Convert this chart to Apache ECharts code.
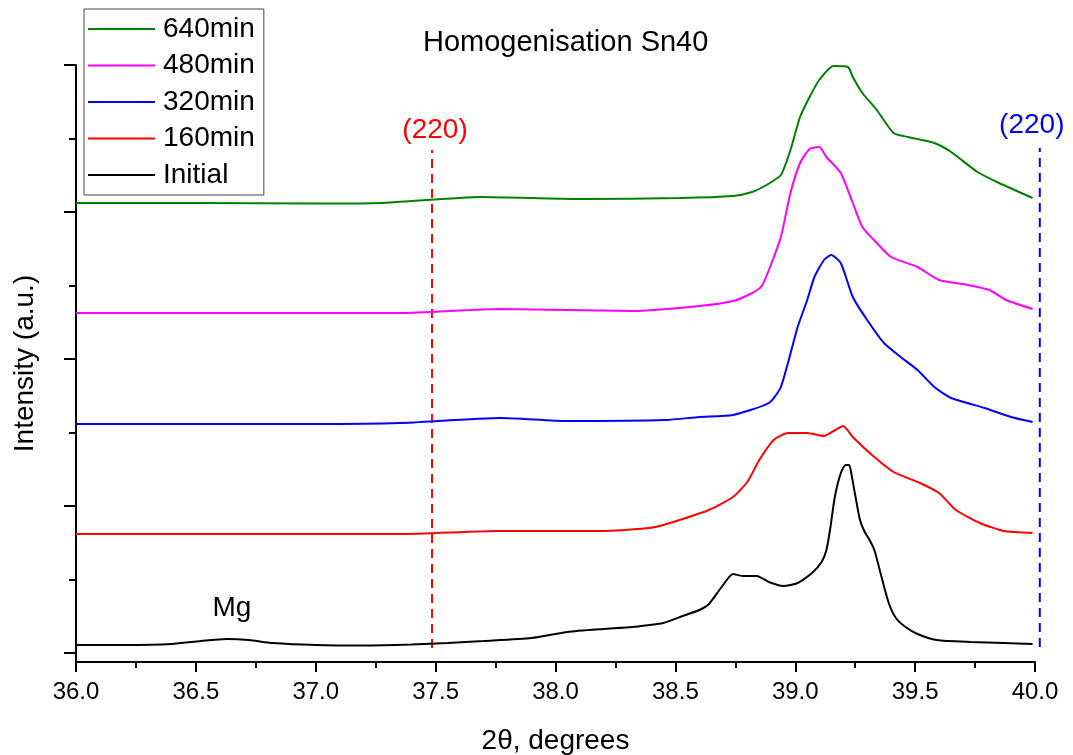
<!DOCTYPE html>
<html>
<head>
<meta charset="utf-8">
<script src="https://cdn.jsdelivr.net/npm/echarts@6/dist/echarts.min.js"></script>
<style>
  html, body { margin: 0; padding: 0; background: #fff; }
  #chart { width: 1073px; height: 755px; }
</style>
</head>
<body>
<div id="chart"></div>
<script>
  // [2theta, intensity] - curves already offset vertically like in the original plot
  const initial = [
    [36.00, 17], [36.20, 17], [36.40, 18], [36.52, 21], [36.63, 23], [36.72, 22], [36.82, 19],
    [37.00, 17], [37.20, 16.5], [37.40, 17.5], [37.55, 19], [37.70, 21], [37.90, 24], [38.05, 30],
    [38.20, 33], [38.32, 35], [38.45, 39], [38.53, 46], [38.60, 52], [38.64, 58], [38.69, 74],
    [38.74, 88], [38.78, 86], [38.84, 86], [38.89, 80], [38.95, 76], [39.01, 79], [39.07, 89],
    [39.11, 100], [39.13, 112], [39.145, 132], [39.165, 165], [39.19, 189], [39.21, 197],
    [39.225, 197], [39.235, 187], [39.25, 167], [39.27, 142], [39.29, 130], [39.31, 122],
    [39.33, 112], [39.36, 85], [39.39, 59], [39.42, 44], [39.46, 35], [39.51, 28], [39.59, 22],
    [39.73, 20], [39.87, 19], [39.99, 18]
  ]
  const min160 = [
    [36.00, 128], [36.50, 128], [37.00, 128], [37.35, 128], [37.77, 131], [38.19, 131], [38.39, 134],
    [38.45, 137], [38.53, 143], [38.64, 152], [38.74, 165], [38.80, 180], [38.85, 202], [38.91, 222],
    [38.97, 229], [39.05, 229], [39.12, 226], [39.16, 231], [39.20, 236], [39.24, 225], [39.32, 207],
    [39.41, 190], [39.52, 179], [39.60, 169], [39.67, 152], [39.77, 139], [39.87, 131], [39.99, 129]
  ]
  const min320 = [
    [36.00, 238], [36.50, 238], [37.00, 238], [37.35, 239], [37.77, 244], [38.05, 241], [38.46, 242],
    [38.60, 245], [38.74, 247], [38.89, 259], [38.94, 275], [39.01, 335], [39.05, 362], [39.08, 385],
    [39.12, 402], [39.15, 407], [39.19, 399], [39.24, 365], [39.30, 342], [39.37, 319], [39.44, 305],
    [39.51, 292], [39.58, 275], [39.65, 264], [39.79, 254], [39.90, 245], [39.99, 240]
  ]
  const min480 = [
    [36.00, 349], [36.50, 349], [37.00, 349], [37.35, 349], [37.77, 353], [38.32, 351], [38.60, 356],
    [38.74, 361], [38.82, 369], [38.86, 376], [38.89, 392], [38.94, 425], [38.98, 469], [39.02, 499],
    [39.06, 513], [39.10, 515], [39.13, 505], [39.19, 489], [39.24, 459], [39.28, 435], [39.34, 419],
    [39.40, 405], [39.51, 395], [39.60, 382], [39.72, 377], [39.81, 372], [39.88, 362], [39.99, 353]
  ]
  const min640 = [
    [36.00, 459], [36.50, 459], [37.00, 458.5], [37.27, 459], [37.69, 465], [38.10, 463], [38.52, 464],
    [38.74, 466], [38.82, 470], [38.88, 477], [38.94, 487], [38.98, 512], [39.02, 545], [39.06, 565],
    [39.10, 582], [39.16, 596], [39.22, 595], [39.24, 585], [39.28, 569], [39.34, 552], [39.41, 529],
    [39.47, 525], [39.58, 519], [39.65, 510], [39.76, 490], [39.85, 479], [39.99, 464]
  ]

  const seriesNames = ['640min', '480min', '320min', '160min', 'Initial']
  const seriesData = [min640, min480, min320, min160, initial]
  const seriesColors = ['#008000', '#ff00ff', '#0000ff', '#ff0000', '#000000']

  // (220) reference positions: [2theta, from, to]
  const refLines = [[37.485, 14, 512], [40.02, 15, 514]]
  const refColors = ['#ff0000', '#0000ff']
  const mgAt = [36.65, 54]

  const yMajorTicks = [9, 156, 303, 450, 597]
  const yMinorTicks = [82.5, 229.5, 376.5, 523.5]

  const font = "'Liberation Sans', Arial, sans-serif"
  const chart = echarts.init(document.getElementById('chart'))

  const series = seriesNames.map((name, i) => ({
    name: name,
    type: 'line',
    data: seriesData[i],
    symbol: 'none',
    smooth: 0.2,
    color: seriesColors[i],
    lineStyle: { color: seriesColors[i], width: 2 },
    z: 3
  }))

  // dashed (220) markers with their labels
  series.push({
    type: 'custom',
    clip: false,
    silent: true,
    data: refLines,
    encode: { x: 0, y: [1, 2] },
    renderItem: (params, api) => {
      const c = refColors[params.dataIndex]
      const x = api.value(0)
      const p0 = api.coord([x, api.value(1)])
      const p1 = api.coord([x, api.value(2)])
      return {
        type: 'group',
        children: [
          {
            type: 'line',
            shape: { x1: p0[0], y1: p0[1], x2: p1[0], y2: p1[1] },
            style: { stroke: c, lineWidth: 2, lineDash: [9, 6] }
          },
          {
            type: 'text',
            style: {
              text: '(220)',
              x: p1[0] + (params.dataIndex === 0 ? 3 : -8),
              y: p1[1] - (params.dataIndex === 0 ? 20 : 23),
              fill: c,
              font: '28px ' + font,
              textAlign: 'center',
              textVerticalAlign: 'middle'
            }
          }
        ]
      }
    },
    z: 2
  })

  series.push({
    type: 'scatter',
    symbolSize: 0,
    silent: true,
    data: [mgAt],
    itemStyle: { opacity: 1 },
    label: {
      show: true,
      position: 'inside',
      formatter: 'Mg',
      color: '#000',
      textBorderWidth: 0,
      textBorderColor: 'transparent',
      fontSize: 28,
      fontFamily: font
    }
  })

  chart.setOption({
    animation: false,
    backgroundColor: '#fff',
    title: {
      text: 'Homogenisation Sn40',
      left: 423,
      top: 28,
      padding: 0,
      textStyle: { fontSize: 29, fontWeight: 'normal', color: '#000', fontFamily: font }
    },
    legend: {
      data: seriesNames,
      orient: 'vertical',
      left: 84,
      top: 9,
      padding: [4, 9, 4, 4],
      itemGap: 4.5,
      itemWidth: 67,
      itemHeight: 2,
      icon: 'rect',
      borderColor: '#444',
      borderWidth: 1,
      textStyle: { fontSize: 28, color: '#000', fontFamily: font, lineHeight: 32, padding: [0, 0, 0, 3] }
    },
    grid: { left: 76, right: 38, top: 65, bottom: 93, outerBoundsMode: 'none' },
    xAxis: {
      type: 'value',
      min: 36,
      max: 40,
      interval: 0.5,
      name: '2θ, degrees',
      nameLocation: 'middle',
      nameGap: 65,
      nameTextStyle: { fontSize: 28, color: '#000', fontFamily: font },
      axisLine: { lineStyle: { color: '#000', width: 2 } },
      axisTick: { length: 10, lineStyle: { color: '#000', width: 2 } },
      minorTick: { show: true, splitNumber: 2, length: 6, lineStyle: { color: '#000', width: 2 } },
      axisLabel: {
        fontSize: 24, color: '#000', fontFamily: font, margin: 18,
        formatter: v => v.toFixed(1)
      },
      splitLine: { show: false }
    },
    yAxis: [
      {
        type: 'value',
        min: 0,
        max: 597,
        name: 'Intensity (a.u.)',
        nameLocation: 'middle',
        nameGap: 37,
        nameTextStyle: { fontSize: 28, color: '#000', fontFamily: font },
        axisLine: { show: true, lineStyle: { color: '#000', width: 2 } },
        axisTick: { show: true, length: 12, customValues: yMajorTicks, lineStyle: { color: '#000', width: 2 } },
        axisLabel: { show: false },
        splitLine: { show: false }
      },
      {
        type: 'value',
        min: 0,
        max: 597,
        position: 'left',
        axisLine: { show: false },
        axisTick: { show: true, length: 7, customValues: yMinorTicks, lineStyle: { color: '#000', width: 2 } },
        axisLabel: { show: false },
        splitLine: { show: false }
      }
    ],
    series: series
  })
</script>
</body>
</html>
